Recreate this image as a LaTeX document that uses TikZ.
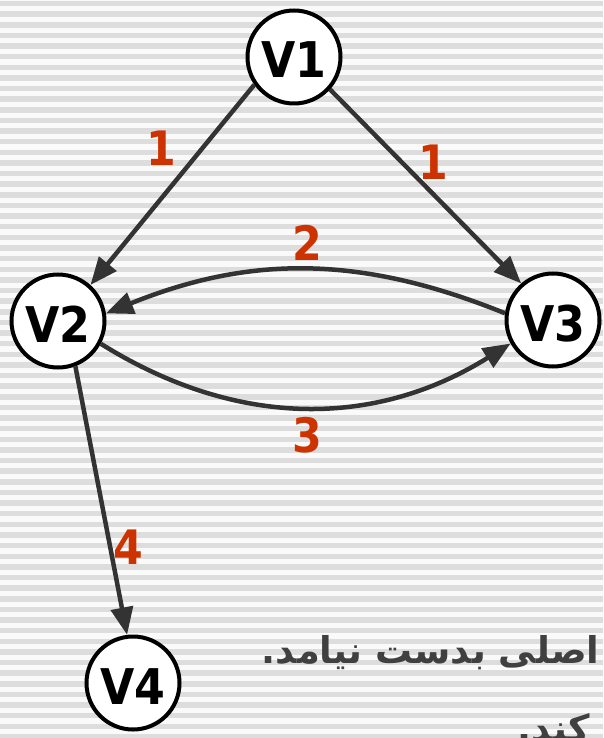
\documentclass[tikz,border=0pt]{standalone}
\usepackage{fontspec}
\setmainfont{DejaVu Sans Condensed}
\newfontfamily\arabicfont[Script=Arabic]{DejaVu Sans}
\TeXXeTstate=1
\usetikzlibrary{positioning,arrows.meta}

\definecolor{edgegray}{RGB}{51,51,51}
\definecolor{weightred}{RGB}{204,51,0}
\definecolor{stripegray}{RGB}{221,221,221}
\definecolor{notegray}{RGB}{64,64,64}

\tikzset{
  vert/.style={circle, draw=black, fill=white, line width=0.08cm,
    minimum size=1.86cm, inner sep=0pt, text height=0.84cm, text depth=0pt,
    font=\fontsize{28}{28}\selectfont\bfseries},
  link/.style={edgegray, line width=0.09cm,
    -{Triangle[length=0.55cm,width=0.44cm]}},
  weight/.style={text=weightred, font=\fontsize{27}{27}\selectfont\bfseries},
  note/.style={anchor=base east, inner sep=0pt, text=notegray,
    font=\arabicfont\bfseries\fontsize{21}{21}\selectfont},
}

\begin{document}
\begin{tikzpicture}
\useasboundingbox (0,0) rectangle (12.06,-14.76);
% striped backdrop
\fill[white!98!black] (0,0) rectangle (12.06,-14.76);
\foreach \k in {0,...,69}
  \fill[stripegray] (0,{-0.015-0.2126*\k}) rectangle (12.06,{-0.125-0.2126*\k});
\clip (0,0) rectangle (12.06,-14.76);

\node[vert] (v1) at (5.88,-1.14) {V1};
\node[vert, on grid, below left=5.28cm and 4.72cm of v1] (v2) {V2};
\node[vert, on grid, below right=5.26cm and 5.18cm of v1] (v3) {V3};
\node[vert, on grid, below right=7.24cm and 1.50cm of v2] (v4) {V4};

\draw[link] (v1.215) -- (v2.48);
\draw[link] (v1.-42) -- (v3.131);
\draw[link] (v3.172) to[out=158, in=22] (v2.9);
\draw[link] (v2.-28) to[out=-32, in=212] (v3.209);
\draw[link] (v2.-69) -- (v4.97);

% edge weights
\node[weight] (w12) at (3.22,-2.96) {1};
\node[weight] (w13) at (8.66,-3.24) {1};
\node[weight] (w32) at (6.14,-4.86) {2};
\node[weight] (w23) at (6.14,-8.70) {3};
\node[weight] (w24) at (2.56,-10.94) {4};

\node[note] (note1) at (12.0,-13.26) {\beginR اصلی بدست نیامد.\endR};
\node[note] (note2) at (11.8,-14.82) {\beginR کند.\endR};
\end{tikzpicture}
\end{document}
